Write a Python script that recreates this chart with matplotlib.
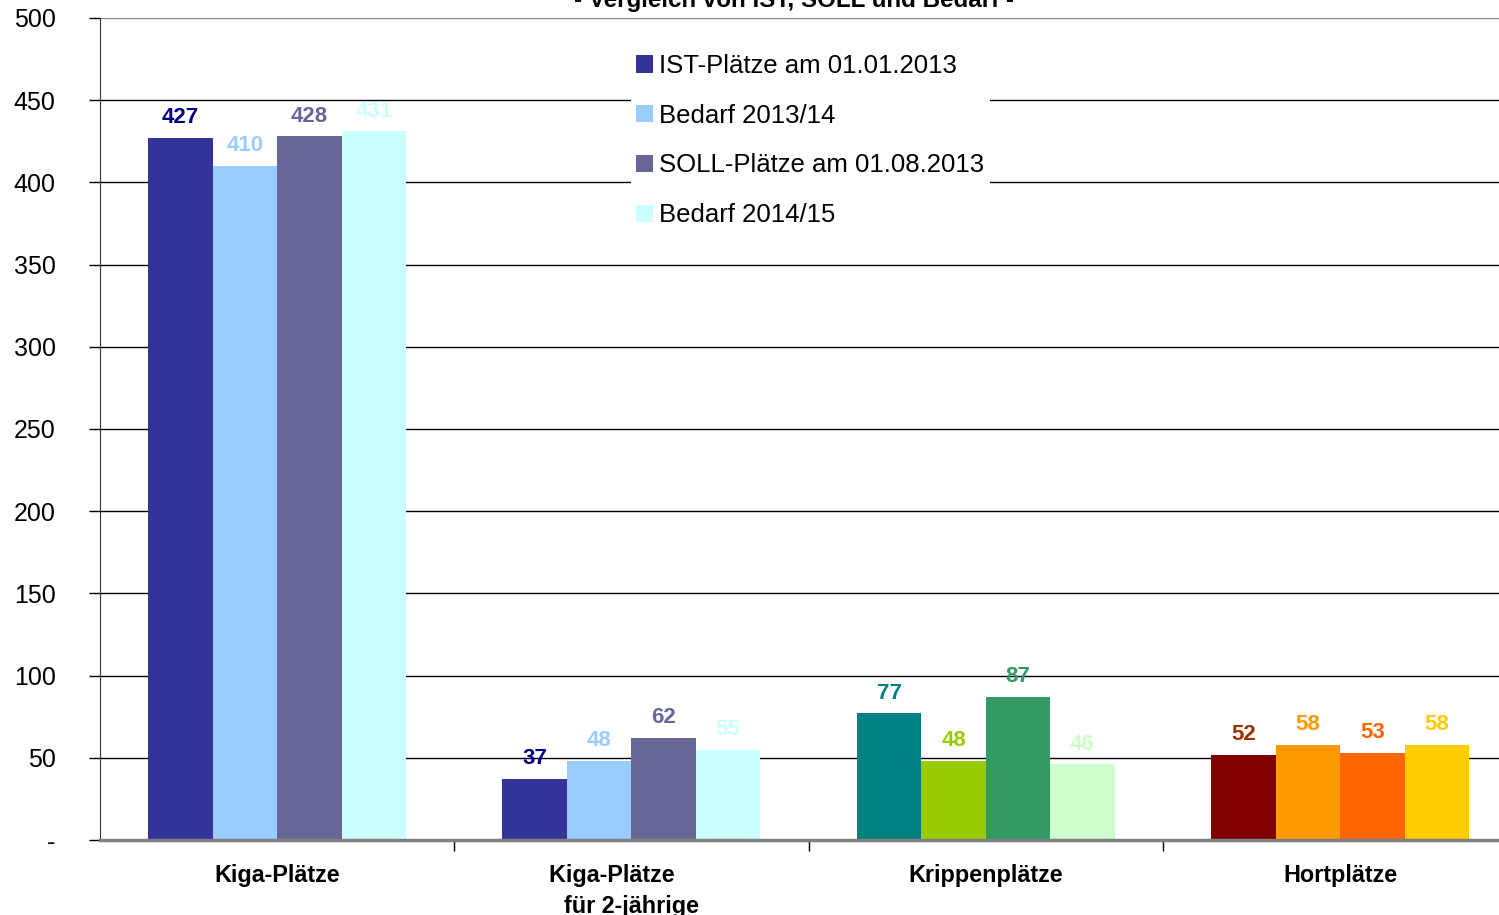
import numpy as np
import matplotlib.pyplot as plt
from matplotlib.patches import Patch

plt.rcParams['font.family'] = ['Liberation Sans', 'DejaVu Sans']

categories = ["Kiga-Plätze", "Kiga-Plätze      \nfür 2-jährige", "Krippenplätze", "Hortplätze"]
series = ["IST-Plätze am 01.01.2013", "Bedarf 2013/14", "SOLL-Plätze am 01.08.2013", "Bedarf 2014/15"]
ist_2013 = [427, 37, 77, 52]
bedarf_1314 = [410, 48, 48, 58]
soll_2013 = [428, 62, 87, 53]
bedarf_1415 = [431, 55, 46, 58]
values = [ist_2013, bedarf_1314, soll_2013, bedarf_1415]

# bar colours per group (columns = series)
bar_colors = [
    ["#333399", "#99CCFF", "#666699", "#CCFFFF"],
    ["#333399", "#99CCFF", "#666699", "#CCFFFF"],
    ["#008080", "#99CC00", "#339966", "#CCFFCC"],
    ["#800000", "#FF9900", "#FF6600", "#FFCC00"],
]
label_colors = [
    ["#000080", "#99CCFF", "#666699", "#CCFFFF"],
    ["#000080", "#99CCFF", "#666699", "#CCFFFF"],
    ["#008080", "#99CC00", "#339966", "#CCFFCC"],
    ["#993300", "#FF9900", "#FF6600", "#FFCC00"],
]

fig = plt.figure(figsize=(14.99, 9.15), dpi=100)
ax = fig.add_axes([100/1499, 75/915, 1399/1499, 822/915])

w = 0.182
for g in range(4):
    for s in range(4):
        x = g + 0.5 + (s - 1.5) * w
        v = values[s][g]
        ax.bar(x, v, width=w, color=bar_colors[g][s], zorder=2, linewidth=0)
        ax.text(x, v + 6, str(v), ha='center', va='bottom', fontsize=16,
                fontweight='bold', color=label_colors[g][s], zorder=3)

ax.set_xlim(0, 1399/354.3)
ax.set_ylim(0, 500)
ax.set_yticks(np.arange(0, 501, 50))
ax.set_yticklabels(["-"] + [str(v) for v in range(50, 501, 50)], fontsize=18)
ax.tick_params(axis='y', length=8, width=1, pad=24, direction='out')

ax.set_xticks([1, 2, 3])
ax.set_xticklabels([])
ax.tick_params(axis='x', length=8, width=1, direction='out')
ax.set_xticks([0.5, 1.5, 2.5, 3.5], minor=True)
ax.set_xticklabels(categories, minor=True, fontsize=16.8, fontweight='bold',
                   linespacing=1.45)
ax.tick_params(axis='x', which='minor', length=0, pad=17)

for y in range(50, 501, 50):
    ax.axhline(y, color='#000000' if y < 500 else '#888888', lw=1.0, zorder=1)

for side in ['top', 'right']:
    ax.spines[side].set_visible(False)
ax.spines['left'].set_color('#333333')
ax.spines['bottom'].set_color('#808080')
ax.spines['bottom'].set_linewidth(2.5)
ax.spines['bottom'].set_zorder(4)

handles = [Patch(facecolor=c, edgecolor='none') for c in bar_colors[0]]
leg = ax.legend(handles, series, loc='upper left', bbox_to_anchor=(0.3705, 0.978),
                fontsize=18.5, frameon=True, facecolor='white', edgecolor='none',
                framealpha=1, handlelength=0.65, handleheight=0.65, handletextpad=0.25,
                labelspacing=1.0, borderpad=0.2, fancybox=False)
leg.set_zorder(5)

fig.text(0.530, 0.992, "- Vergleich von IST, SOLL und Bedarf -", ha='center',
         va='baseline', fontsize=17.4, fontweight='bold')

fig.savefig("out.png", dpi=100)
